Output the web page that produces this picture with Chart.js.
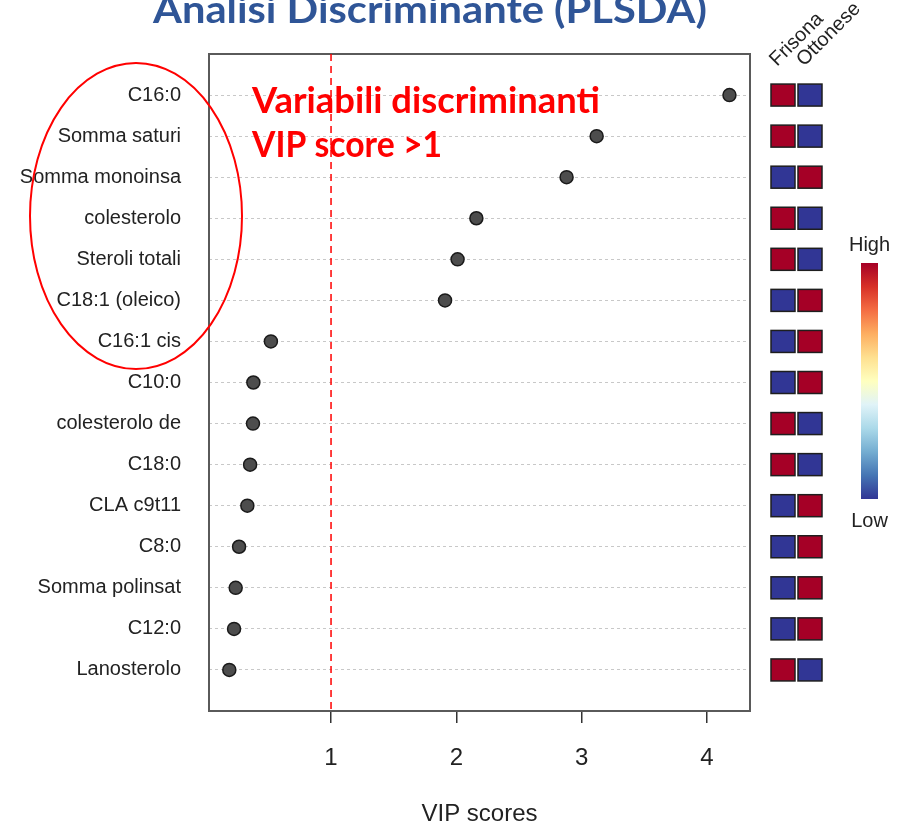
<!DOCTYPE html>
<html>
<head>
<meta charset="utf-8">
<script src="https://cdn.jsdelivr.net/npm/chart.js@4.4.0/dist/chart.umd.min.js"></script>
<style>
    body { margin: 0; background: #ffffff; }
    #chart1 { display: block; }
</style>
</head>
<body>
<canvas id="chart1" width="915" height="822"></canvas>
<script>
// values, top row first
const variables = ['C16:0', 'Somma saturi', 'Somma monoinsa', 'colesterolo', 'Steroli totali',
    'C18:1 (oleico)', 'C16:1 cis', 'C10:0', 'colesterolo de', 'C18:0',
    'CLA c9t11', 'C8:0', 'Somma polinsat', 'C12:0', 'Lanosterolo'];
const vipScores = [4.18, 3.12, 2.88, 2.16, 2.01, 1.91, 0.52, 0.38, 0.377, 0.354, 0.332, 0.266, 0.239, 0.226, 0.188];

// which group is high / low for each variable
const groups = ['Frisona', 'Ottonese'];
const frisonaLevel = ['High', 'High', 'Low', 'High', 'High', 'Low', 'Low', 'Low', 'High', 'High', 'Low', 'Low', 'Low', 'Low', 'High'];
const ottoneseLevel = ['Low', 'Low', 'High', 'Low', 'Low', 'High', 'High', 'High', 'Low', 'Low', 'High', 'High', 'High', 'High', 'Low'];

const xTicks = [1, 2, 3, 4];
const vipThreshold = 1;

const levelColors = { High: '#a50026', Low: '#313695' };
const rdYlBu = ['#a50026', '#d73027', '#f46d43', '#fdae61', '#fee090', '#ffffbf',
    '#e0f3f8', '#abd9e9', '#74add1', '#4575b4', '#313695'];

// fits text to a given width by squeezing it horizontally
function fitText(ctx, text, x, y, width) {
    const w = ctx.measureText(text).width;
    ctx.save();
    ctx.translate(x, y);
    ctx.scale(width / w, 1);
    ctx.fillText(text, 0, 0);
    ctx.restore();
}

const decorPlugin = {
    id: 'decor',
    beforeDraw: function (chart) {
        const ctx = chart.ctx;
        ctx.save();
        ctx.fillStyle = '#ffffff';
        ctx.fillRect(0, 0, chart.width, chart.height);
        ctx.restore();
    },
    beforeDatasetsDraw: function (chart) {
        const ctx = chart.ctx;
        const a = chart.chartArea;
        ctx.save();
        ctx.strokeStyle = '#5a5a5a';
        ctx.lineWidth = 2;
        ctx.strokeRect(a.left, a.top, a.right - a.left, a.bottom - a.top);
        ctx.restore();
    },
    afterDraw: function (chart) {
        const ctx = chart.ctx;
        const a = chart.chartArea;
        const yScale = chart.scales.y;

        // heatmap cells next to the plot
        const cols = [a.right + 33, a.right + 60];
        const levels = [frisonaLevel, ottoneseLevel];
        ctx.save();
        for (let i = 0; i < variables.length; i++) {
            const cy = yScale.getPixelForValue(i + 1);
            for (let c = 0; c < cols.length; c++) {
                ctx.fillStyle = levelColors[levels[c][i]];
                ctx.fillRect(cols[c] - 12, cy - 11, 24, 22);
                ctx.strokeStyle = '#1e1e1e';
                ctx.lineWidth = 1.5;
                ctx.strokeRect(cols[c] - 12, cy - 11, 24, 22);
            }
        }

        // group names, rotated
        ctx.fillStyle = '#222222';
        ctx.font = '20px "Liberation Sans"';
        ctx.textAlign = 'left';
        ctx.textBaseline = 'alphabetic';
        for (let c = 0; c < cols.length; c++) {
            ctx.save();
            ctx.translate(cols[c] - 6, 67);
            ctx.rotate(-Math.PI / 4);
            ctx.fillText(groups[c], 0, 0);
            ctx.restore();
        }

        // colour bar
        const barTop = 263, barBottom = 499, barX = 861, barW = 17;
        const grad = ctx.createLinearGradient(0, barTop, 0, barBottom);
        rdYlBu.forEach(function (col, k) {
            grad.addColorStop(k / (rdYlBu.length - 1), col);
        });
        ctx.fillStyle = grad;
        ctx.fillRect(barX, barTop, barW, barBottom - barTop);
        ctx.fillStyle = '#222222';
        ctx.textAlign = 'center';
        ctx.fillText('High', barX + barW / 2, 251);
        ctx.fillText('Low', barX + barW / 2, 527);

        // slide title (cut off at the top)
        ctx.fillStyle = '#2f5597';
        ctx.font = 'bold 38px Lato';
        ctx.textAlign = 'left';
        fitText(ctx, 'Analisi Discriminante (PLSDA)', 153, 23, 554);

        // red notes
        ctx.fillStyle = '#ff0000';
        ctx.font = 'bold 36px Lato';
        fitText(ctx, 'Variabili discriminanti', 252, 113, 348);
        fitText(ctx, 'VIP score >1', 252, 157, 190);

        ctx.strokeStyle = '#ff0000';
        ctx.lineWidth = 2;
        ctx.beginPath();
        ctx.ellipse(136, 216, 106, 153, 0, 0, Math.PI * 2);
        ctx.stroke();
        ctx.restore();
    }
};

const ctx = document.getElementById('chart1');
const myChart = new Chart(ctx, {
    type: 'scatter',
    data: {
        datasets: [{
            label: 'VIP scores',
            data: vipScores.map(function (v, i) { return { x: v, y: i + 1 }; }),
            pointRadius: 6.5,
            backgroundColor: '#4d4d4d',
            borderColor: '#1a1a1a',
            borderWidth: 1.5
        }, {
            type: 'line',
            label: 'threshold',
            data: [{ x: vipThreshold, y: 0 }, { x: vipThreshold, y: variables.length + 1 }],
            borderColor: '#ff0000',
            borderWidth: 1.5,
            borderDash: [7, 5],
            pointRadius: 0,
            fill: false
        }]
    },
    options: {
        responsive: false,
        animation: false,
        layout: {
            padding: { left: 0, right: 165, top: 54, bottom: 0 }
        },
        plugins: {
            legend: { display: false },
            tooltip: { enabled: false }
        },
        scales: {
            x: {
                type: 'linear',
                min: 0.026,
                max: 4.344,
                afterBuildTicks: function (scale) {
                    scale.ticks = xTicks.map(function (v) { return { value: v }; });
                },
                afterFit: function (scale) {
                    scale.height = 111;
                },
                grid: {
                    drawOnChartArea: false,
                    drawTicks: true,
                    tickLength: 12,
                    color: '#333333',
                    lineWidth: 1.5
                },
                border: { display: false },
                ticks: {
                    padding: 21,
                    color: '#222222',
                    font: { family: 'Liberation Sans', size: 24 }
                },
                title: {
                    display: true,
                    text: 'VIP scores',
                    color: '#222222',
                    font: { family: 'Liberation Sans', size: 24 },
                    padding: { top: 0, bottom: -7 }
                }
            },
            y: {
                type: 'linear',
                reverse: true,
                min: 0,
                max: variables.length + 1,
                afterBuildTicks: function (scale) {
                    scale.ticks = variables.map(function (n, i) { return { value: i + 1 }; });
                },
                afterFit: function (scale) {
                    scale.width = 209;
                },
                grid: {
                    drawTicks: false,
                    color: '#c8c8c8',
                    lineWidth: 1
                },
                border: { display: false, dash: [3, 3] },
                ticks: {
                    padding: 28,
                    color: '#222222',
                    font: { family: 'Liberation Sans', size: 20 },
                    callback: function (value) {
                        return variables[value - 1];
                    }
                }
            }
        }
    },
    plugins: [decorPlugin]
});
</script>
</body>
</html>
